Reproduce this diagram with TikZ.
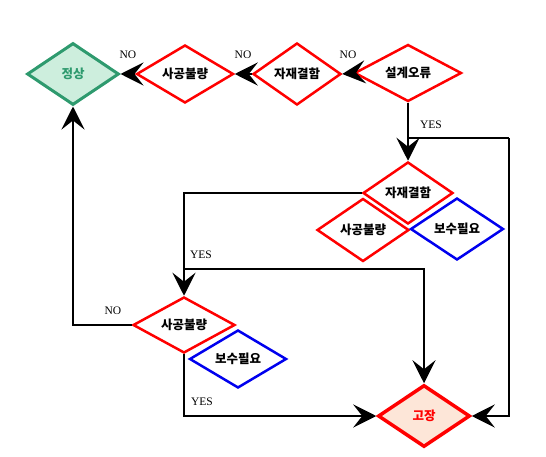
\documentclass[tikz,border=0pt]{standalone}
\usepackage{fontspec}
\setmainfont{Liberation Serif}
\newfontfamily\kr{Noto Sans CJK KR}
\usetikzlibrary{shapes.geometric,arrows.meta}
\definecolor{okgreen}{HTML}{2E9A6E}
\definecolor{okfill}{HTML}{CDEEDD}
\definecolor{gfill}{HTML}{FDE6D8}
\definecolor{bl}{HTML}{0000EE}
\begin{document}
\begin{tikzpicture}[x=1pt,y=-1pt,
  dmd/.style 2 args={diamond, draw=red, line width=2.5pt, fill=white,
    minimum width=#1, minimum height=#2, inner sep=0pt, aspect=1.6,
    font=\kr\bfseries\fontsize{12.5}{13}\selectfont},
  blue/.style={draw=bl},
  conn/.style={line width=2.8pt, -{Stealth[length=23pt,width=23pt,inset=9pt]}},
  plain/.style={line width=2.8pt},
  lab/.style={font=\fontsize{11.5}{12}\selectfont, inner sep=0pt}]
\useasboundingbox (0,0) rectangle (546,457);
% nodes
\node[dmd={92pt}{62pt}, draw=okgreen, fill=okfill, text=okgreen, line width=3pt] (ok) at (73,74) {정상};
\node[dmd={97pt}{58pt}] (s1) at (185,74) {사공불량};
\node[dmd={88pt}{62pt}] (j1) at (297,74) {자재결함};
\node[dmd={107pt}{57pt}] (d) at (408,73) {설계오류};
\node[dmd={92pt}{63pt}] (s2) at (363,230) {사공불량};
\node[dmd={93pt}{62pt}, blue] (b2) at (457,229) {보수필요};
\node[dmd={90pt}{62pt}] (j2) at (408,193) {자재결함};
\node[dmd={102pt}{56pt}] (s3) at (184,325) {사공불량};
\node[dmd={97pt}{58pt}, blue] (b3) at (238,359) {보수필요};
\node[dmd={92pt}{62pt}, fill=gfill, text=red, line width=3.5pt] (g) at (424,416) {고장};
% coordinates
\coordinate (br1) at (408,138);
\coordinate (rr) at (509,138);
\coordinate (br2) at (184,269);
% connectors
\draw[conn] (d.west) -- (j1.east);
\draw[conn] (j1.west) -- (s1.east);
\draw[conn] (s1.west) -- (ok.east);
\draw[conn] (d.south) -- (j2.north);
\draw[plain] (br1) -- (rr);
\draw[conn] (rr) |- (g.east);
\draw[conn] (j2.west) -| (s3.north);
\draw[conn] (br2) -| (g.north);
\draw[conn] (s3.west) -| (ok.south);
\draw[conn] (s3.south) |- (g.west);
% labels
\node[lab] (n1) at (348,55) {NO};
\node[lab] (n2) at (243,55) {NO};
\node[lab] (n3) at (128,55) {NO};
\node[lab] (y1) at (431,125) {YES};
\node[lab] (y2) at (201,255) {YES};
\node[lab] (n4) at (113,311) {NO};
\node[lab] (y3) at (202,402) {YES};
\end{tikzpicture}
\end{document}
